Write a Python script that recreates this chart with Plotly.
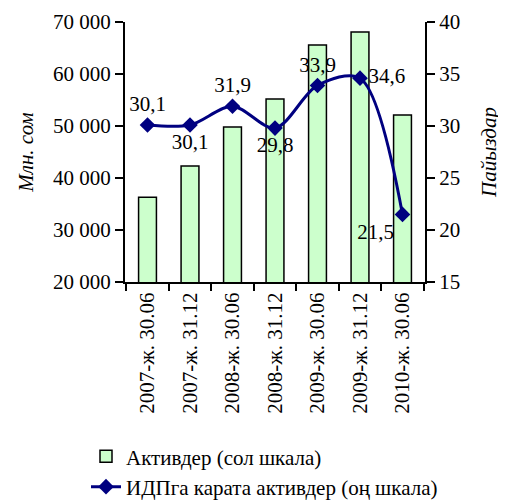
import plotly.graph_objects as go

# Data
periods = ["2007-ж. 30.06", "2007-ж. 31.12", "2008-ж. 30.06", "2008-ж. 31.12",
           "2009-ж. 30.06", "2009-ж. 31.12", "2010-ж. 30.06"]
assets = [36300, 42300, 49800, 55200, 65600, 68100, 52100]
assets_to_gdp = [30.1, 30.1, 31.9, 29.8, 33.9, 34.6, 21.5]
label_pos = ["top center", "bottom center", "top center", "bottom center",
             "top center", "middle right", "bottom left"]

font = "Liberation Serif"

fig = go.Figure()

fig.add_trace(go.Bar(
    x=periods, y=assets,
    name="Активдер (сол шкала)",
    marker=dict(color="#CCFFCC", line=dict(color="black", width=1.5)),
    yaxis="y",
))

fig.add_trace(go.Scatter(
    x=periods, y=assets_to_gdp,
    name="ИДПга карата активдер (оң шкала)",
    mode="lines+markers+text",
    line=dict(color="#000080", width=3, shape="spline", smoothing=0.9),
    marker=dict(symbol="diamond", size=12, color="#000080"),
    text=[str(v).replace(".", ",") for v in assets_to_gdp],
    textposition=label_pos,
    textfont=dict(family=font, size=21, color="black"),
    yaxis="y2",
))

tick_font = dict(family=font, size=21, color="black")

# page body has an 8px margin, so the figure is a bit smaller than the window
fig.update_layout(
    width=498, height=495,
    margin=dict(l=117, r=81, t=14, b=221),
    paper_bgcolor="white", plot_bgcolor="white",
    font=dict(family=font, size=21, color="black"),
    separators=", ",
    bargap=0.58,
    showlegend=True,
    legend=dict(x=-0.13, y=0.135, xanchor="left", yanchor="top",
                yref="container",
                font=dict(family=font, size=21), tracegroupgap=2,
                bgcolor="rgba(0,0,0,0)"),
    xaxis=dict(
        showline=True, linecolor="black", linewidth=2,
        ticks="outside", ticklen=7, tickwidth=2, tickcolor="black",
        tickson="boundaries", tickangle=-90, tickfont=tick_font,
        showgrid=False, automargin=False,
    ),
    yaxis=dict(
        range=[20000, 70000], dtick=10000, tickformat=",d", tickfont=tick_font,
        showline=True, linecolor="black", linewidth=2,
        ticks="outside", ticklen=8, tickwidth=2, tickcolor="black",
        showgrid=False, zeroline=False, automargin=False,
        title=dict(text="<i>Млн. сом</i>", standoff=14, font=tick_font),
    ),
    yaxis2=dict(
        range=[15, 40], dtick=5, overlaying="y", side="right", tickfont=tick_font,
        showline=True, linecolor="black", linewidth=2,
        ticks="outside", ticklen=8, tickwidth=2, tickcolor="black",
        showgrid=False, zeroline=False, automargin=False,
        title=dict(text="<i>Пайыздар</i>", standoff=22, font=tick_font),
    ),
)

fig.write_html("out.html")
